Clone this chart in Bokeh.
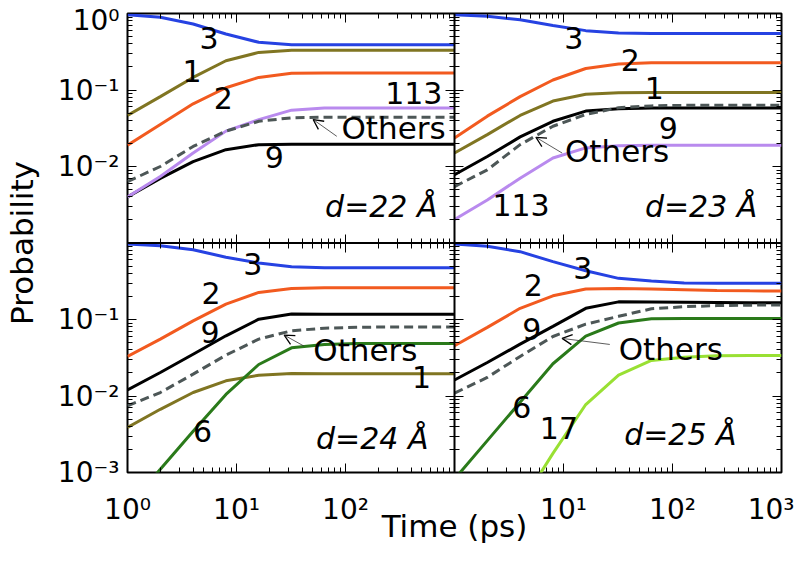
import numpy as np
from bokeh.plotting import figure
from bokeh.models import (Range1d, LogAxis, LogScale, FixedTicker, Label, Arrow,
                          OpenHead, Span)
from bokeh.embed import file_html
from bokeh.resources import INLINE

# ---------------- data ----------------
time_ps = [1, 2, 4, 8, 16, 32, 64, 128, 256, 512, 1000]
time_17 = [4, 8, 16, 32, 64, 128, 256, 512, 1000]

# d = 22 Å
d22_c3 = [0.96, 0.895, 0.73, 0.54, 0.42, 0.39, 0.39, 0.39, 0.39, 0.39, 0.39]
d22_c1 = [0.0465, 0.082, 0.146, 0.241, 0.31, 0.33, 0.33, 0.33, 0.33, 0.33, 0.33]
d22_c2 = [0.019, 0.0354, 0.066, 0.107, 0.146, 0.166, 0.167, 0.167, 0.167, 0.167, 0.167]
d22_c9 = [0.0040, 0.0070, 0.0116, 0.0166, 0.0193, 0.0195, 0.0195, 0.0195, 0.0195, 0.0195, 0.0195]
d22_c113 = [0.0040, 0.0074, 0.015, 0.029, 0.041, 0.0545, 0.058, 0.058, 0.058, 0.058, 0.058]
d22_oth = [0.00635, 0.010, 0.0183, 0.029, 0.039, 0.0433, 0.044, 0.044, 0.044, 0.044, 0.044]

# d = 23 Å
d23_c3 = [0.96, 0.92, 0.826, 0.695, 0.597, 0.557, 0.546, 0.546, 0.546, 0.546, 0.546]
d23_c2 = [0.0236, 0.0455, 0.082, 0.135, 0.191, 0.218, 0.227, 0.227, 0.227, 0.227, 0.227]
d23_c1 = [0.015, 0.0261, 0.0465, 0.0717, 0.0878, 0.0923, 0.093, 0.093, 0.093, 0.093, 0.093]
d23_c9 = [0.0078, 0.0135, 0.0244, 0.039, 0.053, 0.0569, 0.058, 0.058, 0.058, 0.058, 0.058]
d23_c113 = [0.00203, 0.00365, 0.00704, 0.0129, 0.0175, 0.0187, 0.019, 0.019, 0.019, 0.019, 0.019]
d23_oth = [0.00546, 0.00905, 0.0193, 0.0336, 0.0479, 0.0587, 0.062, 0.063, 0.063, 0.063, 0.063]

# d = 24 Å
d24_c3 = [0.97, 0.92, 0.818, 0.65, 0.547, 0.49, 0.475, 0.475, 0.475, 0.475, 0.475]
d24_c2 = [0.0329, 0.0554, 0.096, 0.159, 0.226, 0.255, 0.26, 0.26, 0.26, 0.26, 0.26]
d24_c9 = [0.012, 0.0203, 0.0352, 0.0612, 0.101, 0.118, 0.117, 0.117, 0.117, 0.117, 0.117]
d24_c1 = [0.00387, 0.0067, 0.0111, 0.0158, 0.0187, 0.0197, 0.0195, 0.0195, 0.0195, 0.0195, 0.0195]
d24_c6 = [0.00035, 0.0011, 0.00347, 0.0105, 0.0258, 0.0426, 0.047, 0.0486, 0.0486, 0.0486, 0.0486]
d24_oth = [0.00743, 0.0111, 0.0193, 0.0342, 0.0554, 0.0712, 0.077, 0.079, 0.08, 0.08, 0.08]

# d = 25 Å
d25_c3 = [0.97, 0.905, 0.77, 0.57, 0.434, 0.345, 0.318, 0.30, 0.297, 0.297, 0.297]
d25_c2 = [0.0453, 0.0788, 0.14, 0.204, 0.25, 0.255, 0.25, 0.245, 0.24, 0.237, 0.235]
d25_c9 = [0.0162, 0.0274, 0.0476, 0.0813, 0.14, 0.17, 0.169, 0.168, 0.167, 0.166, 0.166]
d25_c6 = [0.00082, 0.00261, 0.0083, 0.0264, 0.0607, 0.09, 0.102, 0.103, 0.103, 0.103, 0.103]
d25_c17 = [0.00037, 0.00178, 0.00774, 0.0187, 0.0292, 0.032, 0.0335, 0.0339, 0.0339]
d25_oth = [0.0109, 0.0175, 0.0329, 0.06, 0.087, 0.11, 0.138, 0.147, 0.152, 0.154, 0.155]

# tick labels: left panels / right panels on the shared (6-decade) time axis,
# top panels / bottom panels on the shared (6-decade) probability axis
x_tick_pos = [1.0, 10.0, 100.0, 1e4, 1e5, 1e6]
x_tick_txt = ["10⁰", "10¹", "10²", "10¹", "10²", "10³"]
y_tick_pos = [0.82, 0.1, 0.01, 1e-4, 1e-5, 1e-6]      # 10^0 label sits just below the top edge
y_tick_txt = ["10⁰", "10⁻¹", "10⁻²", "10⁻¹", "10⁻²", "10⁻³"]

# ---------------- styles ----------------
C_BLUE = "#2642e2"
C_OLIVE = "#807522"
C_ORANGE = "#f25a1f"
C_LAV = "#b98aee"
C_GRAY = "#4d5757"
C_BLACK = "#000000"
C_GREEN = "#2a7a1a"
C_LIME = "#99e033"
FONT = "DejaVu Sans"

x_major_edge = [10.0 ** e for e in range(0, 7)]
x_minor_edge = [k * 10.0 ** e for e in range(0, 6) for k in range(2, 10)]
y_major_edge = [10.0 ** e for e in range(-6, 1)]
y_minor_edge = [k * 10.0 ** e for e in range(-6, 0) for k in range(2, 10)]

# ---------------- figure ----------------
p = figure(width=794, height=547,
           x_axis_type="log", y_axis_type="log",
           x_range=Range1d(1, 1e6), y_range=Range1d(1e-6, 1),
           x_axis_location=None, y_axis_location=None,
           toolbar_location=None, output_backend="svg",
           min_border_left=118, min_border_right=13,
           min_border_top=13, min_border_bottom=75,
           outline_line_color="black", outline_line_width=2,
           background_fill_color="white", border_fill_color="white")
p.xgrid.visible = False
p.ygrid.visible = False
# right-hand panels and bottom panels get their own 1..1000 / 1e-3..1 log ranges
p.extra_x_ranges = {"right": Range1d(1e-3, 1e3)}
p.extra_x_scales = {"right": LogScale()}
p.extra_y_ranges = {"bot": Range1d(1e-3, 1e3)}
p.extra_y_scales = {"bot": LogScale()}


def tick_axis(side, loc):
    dim_x = side in ("below", "above")
    ax = LogAxis(ticker=FixedTicker(ticks=x_major_edge if dim_x else y_major_edge,
                                    minor_ticks=x_minor_edge if dim_x else y_minor_edge),
                 fixed_location=loc, axis_line_color=None,
                 major_tick_in=9, major_tick_out=0, minor_tick_in=5, minor_tick_out=0,
                 major_tick_line_color="black", minor_tick_line_color="black",
                 major_label_text_font_size="1px", major_label_text_color=None,
                 major_label_standoff=0)
    p.add_layout(ax, side)


for side, loc in [("left", 1), ("left", 1000), ("right", 1000), ("right", 1e6),
                  ("above", 1), ("above", 1e-3), ("below", 1e-3), ("below", 1e-6)]:
    tick_axis(side, loc)

xlab_axis = LogAxis(ticker=FixedTicker(ticks=x_tick_pos, minor_ticks=[]),
                    major_label_overrides=dict(zip(x_tick_pos, x_tick_txt)),
                    axis_line_color=None, major_tick_line_color=None, minor_tick_line_color=None,
                    major_tick_in=0, major_tick_out=0, minor_tick_in=0, minor_tick_out=0,
                    major_label_text_font=FONT, major_label_text_font_size="28px",
                    major_label_text_color="black", major_label_standoff=20,
                    axis_label="Time (ps)", axis_label_text_font=FONT,
                    axis_label_text_font_size="31px", axis_label_text_font_style="normal",
                    axis_label_text_color="black", axis_label_standoff=-21)
p.add_layout(xlab_axis, "below")

ylab_axis = LogAxis(ticker=FixedTicker(ticks=y_tick_pos, minor_ticks=[]),
                    major_label_overrides=dict(zip(y_tick_pos, y_tick_txt)),
                    axis_line_color=None, major_tick_line_color=None, minor_tick_line_color=None,
                    major_tick_in=0, major_tick_out=0, minor_tick_in=0, minor_tick_out=0,
                    major_label_text_font=FONT, major_label_text_font_size="28px",
                    major_label_text_color="black", major_label_standoff=8,
                    axis_label="Probability", axis_label_text_font=FONT,
                    axis_label_text_font_size="31px", axis_label_text_font_style="normal",
                    axis_label_text_color="black", axis_label_standoff=15)
p.add_layout(ylab_axis, "left")

# panel dividers
p.add_layout(Span(location=1000, dimension="height", line_color="black", line_width=2))
p.add_layout(Span(location=1e-3, dimension="width", line_color="black", line_width=2))

PANELS = {
    "d22": ("default", "default"),
    "d23": ("right", "default"),
    "d24": ("default", "bot"),
    "d25": ("right", "bot"),
}


def draw(panel, series, labels, arrow):
    xr, yr = PANELS[panel]
    for xs, vals, color, dash in series:
        p.line(xs, vals, line_color=color, line_width=3,
               line_dash=dash if dash else "solid",
               x_range_name=xr, y_range_name=yr)
    for txt, x, y, italic in labels:
        p.add_layout(Label(x=x, y=y, text=txt, text_align="center",
                           text_baseline="middle", text_font=FONT,
                           text_font_size="31px" if txt == "Others" else "30px",
                           text_color="black",
                           text_font_style="italic" if italic else "normal",
                           x_range_name=xr, y_range_name=yr))
    (x0, y0), (x1, y1) = arrow
    p.add_layout(Arrow(x_start=x0, y_start=y0, x_end=x1, y_end=y1,
                       line_width=0.8, line_color="#333333",
                       end=OpenHead(size=10, line_width=1.3, line_color="black"),
                       x_range_name=xr, y_range_name=yr))


T = time_ps
draw("d22",
     [(T, d22_c3, C_BLUE, None), (T, d22_c1, C_OLIVE, None), (T, d22_c2, C_ORANGE, None),
      (T, d22_c9, C_BLACK, None), (T, d22_c113, C_LAV, None), (T, d22_oth, C_GRAY, "9 5")],
     [("3", 5.6, 0.473, False), ("1", 3.9, 0.179, False), ("2", 7.56, 0.0783, False),
      ("9", 22.2, 0.01336, False), ("113", 423, 0.091, False),
      ("Others", 276, 0.0321, False), ("d=22 Å", 213, 0.00299, True)],
     ((83.2, 0.0248), (50.5, 0.0411)))

draw("d23",
     [(T, d23_c3, C_BLUE, None), (T, d23_c2, C_ORANGE, None), (T, d23_c1, C_OLIVE, None),
      (T, d23_c9, C_BLACK, None), (T, d23_c113, C_LAV, None), (T, d23_oth, C_GRAY, "9 5")],
     [("3", 12.4, 0.473, False), ("2", 41.1, 0.247, False), ("1", 68.1, 0.107, False),
      ("9", 91.4, 0.0319, False), ("Others", 31, 0.0158, False),
      ("113", 4.08, 0.00315, False), ("d=23 Å", 183, 0.00299, True)],
     ((9.71, 0.015), (5.58, 0.0241)))

draw("d24",
     [(T, d24_c3, C_BLUE, None), (T, d24_c2, C_ORANGE, None), (T, d24_c9, C_BLACK, None),
      (T, d24_c1, C_OLIVE, None), (T, d24_c6, C_GREEN, None), (T, d24_oth, C_GRAY, "9 5")],
     [("3", 14.1, 0.539, False), ("2", 5.83, 0.224, False), ("9", 5.73, 0.0688, False),
      ("Others", 152, 0.0398, False), ("1", 498, 0.0177, False),
      ("6", 4.88, 0.00346, False), ("d=24 Å", 176, 0.0028, True)],
     ((41.6, 0.0449), (27.4, 0.0625)))

draw("d25",
     [(T, d25_c3, C_BLUE, None), (T, d25_c2, C_ORANGE, None), (T, d25_c9, C_BLACK, None),
      (T, d25_c6, C_GREEN, None), (time_17, d25_c17, C_LIME, None), (T, d25_oth, C_GRAY, "9 5")],
     [("3", 15, 0.475, False), ("2", 5.27, 0.282, False), ("9", 5.11, 0.076, False),
      ("Others", 96.3, 0.0416, False), ("6", 4.15, 0.00718, False),
      ("17", 9.07, 0.00382, False), ("d=25 Å", 118, 0.00316, True)],
     ((26.6, 0.0472), (9.71, 0.0566)))

with open("out.html", "w") as f:
    f.write(file_html(p, INLINE))
